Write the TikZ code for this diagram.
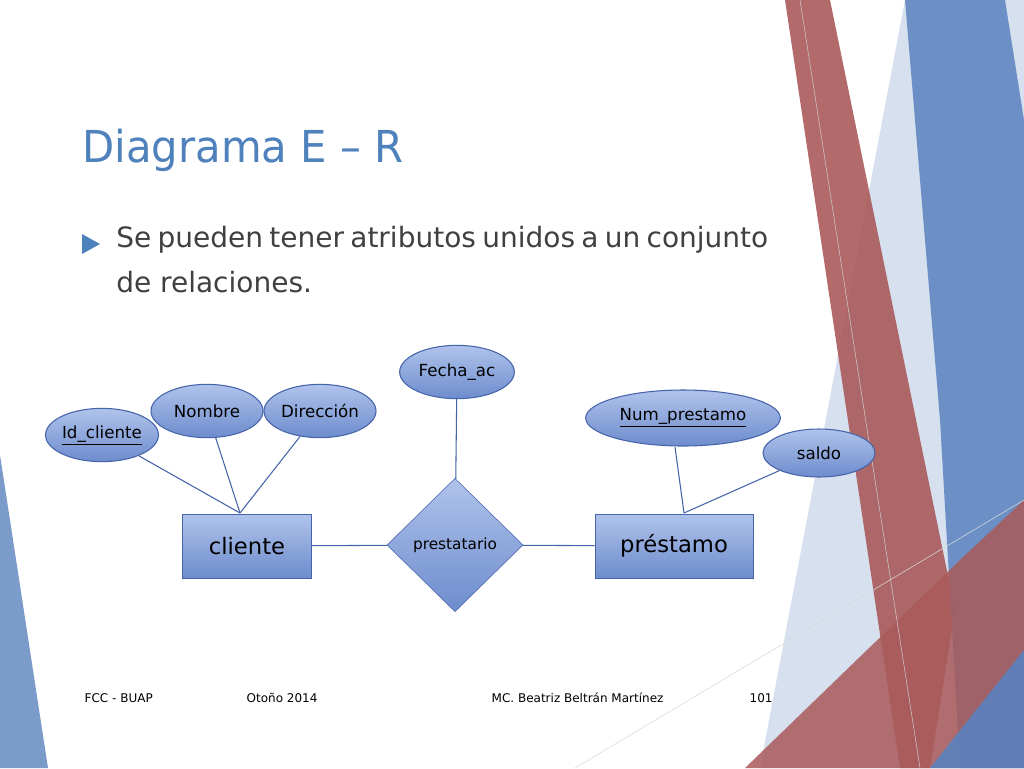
\documentclass[tikz,border=0pt]{standalone}
\usepackage{fontspec}
\setmainfont{DejaVu Sans}
\usetikzlibrary{shapes.geometric}
\definecolor{ttl}{RGB}{79,129,189}
\definecolor{bord}{RGB}{70,100,170}
\definecolor{topc}{RGB}{175,195,235}
\definecolor{botc}{RGB}{110,140,205}
\definecolor{redb}{RGB}{170,90,90}
\definecolor{blub}{RGB}{90,130,190}
\begin{document}
\begin{tikzpicture}[x=0.75pt,y=-0.75pt,
  ent/.style={draw=bord,top color=topc,bottom color=botc,minimum width=#1*0.75pt,minimum height=48pt,inner sep=0pt,font=\fontsize{17}{20}\selectfont},
  attr/.style={ellipse,draw=bord,thick,top color=topc,bottom color=botc,inner sep=0pt,font=\fontsize{12.5}{15}\selectfont},
  rel/.style={diamond,draw=bord,top color=topc,bottom color=botc,minimum width=102pt,minimum height=100pt,inner sep=0pt,font=\fontsize{11.5}{14}\selectfont},
  ln/.style={draw=bord,thick},
  foot/.style={anchor=base west,font=\fontsize{9}{11}\selectfont}]
\useasboundingbox (0,0) rectangle (1024,768);
\fill[white] (0,0) rectangle (1024,768);
% decoration
\fill[blub!80] (0,455) -- (48,768) -- (0,768) -- cycle;
\fill[blub!25] (905,0) -- (1024,0) -- (1024,768) -- (760,768) -- cycle;
\fill[redb,opacity=0.9] (785,0) -- (830,0) -- (955,610) -- (930,768) -- (900,768) -- cycle;
\fill[blub,opacity=0.85] (905,0) -- (1005,0) -- (1024,120) -- (1024,768) -- (960,768) -- (940,420) -- cycle;
\fill[redb,opacity=0.85] (745,768) -- (960,560) -- (1024,500) -- (1024,768) -- cycle;
\fill[blub,opacity=0.9] (930,768) -- (1024,650) -- (1024,768) -- cycle;
\draw[gray!40] (800,0) -- (920,768);
\draw[gray!30] (575,768) -- (1024,500);
% title
\node[anchor=base west,text=ttl,font=\fontsize{33}{36}\selectfont,xscale=0.95] (title) at (78,162) {Diagrama E – R};
\fill[ttl] (82,234) -- (100,244) -- (82,254) -- cycle;
\node[anchor=north west,text width=489pt,align=justify,text=black!75,font=\fontsize{21}{34}\selectfont,inner sep=0pt] (body) at (116,226) {\hyphenpenalty=10000\relax\exhyphenpenalty=10000\relax Se pueden tener atributos unidos a un conjunto de relaciones.};
% diagram
\node[ent=129] (cl) at (247,546) {cliente};
\node[ent=158] (pr) at (674,546) {préstamo};
\node[rel] (rl) at (455,545) {prestatario};
\node[attr,minimum width=84pt,minimum height=40pt] (id) at (102,435) {\underline{Id\_cliente}};
\node[attr,minimum width=84pt,minimum height=40pt] (no) at (207,411) {Nombre};
\node[attr,minimum width=84pt,minimum height=40pt] (di) at (320,411) {Dirección};
\node[attr,minimum width=86pt,minimum height=40pt] (fe) at (457,372) {Fecha\_ac};
\node[attr,minimum width=146pt,minimum height=42pt] (nu) at (683,418) {\underline{Num\_prestamo}};
\node[attr,minimum width=84pt,minimum height=36pt] (sa) at (819,453) {saldo};
\coordinate (cj) at (240,513);
\coordinate (pj) at (684,513);
\draw[ln] (id) -- (cj);
\draw[ln] (no) -- (cj);
\draw[ln] (di) -- (cj);
\draw[ln] (fe) -- (rl);
\draw[ln] (cl) -- (rl);
\draw[ln] (rl) -- (pr);
\draw[ln] (675,447) -- (pj);
\draw[ln] (sa) -- (pj);
% footer
\node[foot] (f1) at (80,702) {FCC - BUAP};
\node[foot] (f2) at (242,702) {Otoño 2014};
\node[foot] (f3) at (487,702) {MC. Beatriz Beltrán Martínez};
\node[foot] (f4) at (745,702) {101};
\end{tikzpicture}
\end{document}
